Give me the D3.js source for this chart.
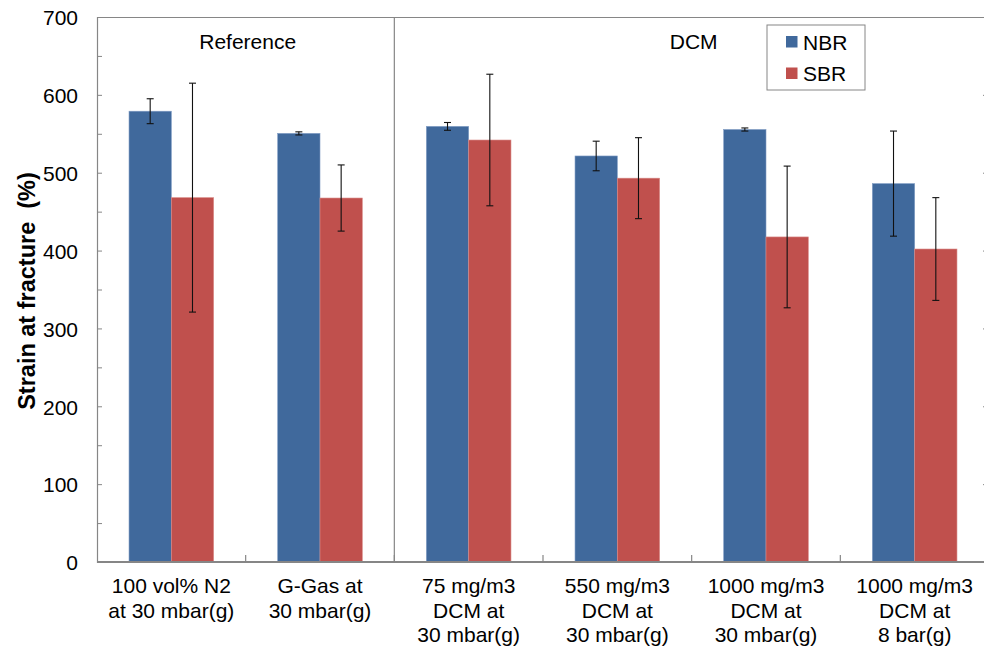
<!DOCTYPE html>
<html>
<head>
<meta charset="utf-8">
<title>Strain at fracture</title>
<style>
  body { margin: 0; background: #fff; }
  svg { font-family: "Liberation Sans", Arial, sans-serif; }
</style>
</head>
<body>
<svg id="chart" width="984" height="650"></svg>
<script src="https://cdn.jsdelivr.net/npm/d3@7"></script>
<script>
// data
var categories = [
  ['100 vol% N2', 'at 30 mbar(g)'],
  ['G-Gas at', '30 mbar(g)'],
  ['75 mg/m3', 'DCM at', '30 mbar(g)'],
  ['550 mg/m3', 'DCM at', '30 mbar(g)'],
  ['1000 mg/m3', 'DCM at', '30 mbar(g)'],
  ['1000 mg/m3', 'DCM at', '8 bar(g)']
];
var seriesNames = ['NBR', 'SBR'];
var nbr = [579, 550.5, 559.5, 521.5, 555.5, 486];
var sbr = [468, 467.5, 542, 493, 417.5, 402];
var nbrErr = [16, 2, 5, 19, 2, 67.5];
var sbrErr = [147, 42.5, 84.5, 52, 91, 66];
var groups = [
  {name: 'Reference', from: 0, to: 1},
  {name: 'DCM', from: 2, to: 5}
];
var yTicks = [0, 100, 200, 300, 400, 500, 600, 700];

var colors = {NBR: '#40699c', SBR: '#c0504d'};

var margin = {top: 17, left: 97};
var plotRight = 989, plotBottom = 562;
var fs = 21;
var svg = d3.select('#chart');

var keys = categories.map(function (c, i) { return i; });
var x = d3.scaleBand().domain(keys).range([margin.left, plotRight]).padding(0);
var x1 = d3.scaleBand().domain(seriesNames).range([0, x.bandwidth()])
    .paddingInner(0).paddingOuter(0.757);
var y = d3.scaleLinear().domain([0, 700]).range([plotBottom, margin.top]);

var rows = keys.map(function (i) {
  return {i: i, vals: [
    {s: 'NBR', v: nbr[i], e: nbrErr[i]},
    {s: 'SBR', v: sbr[i], e: sbrErr[i]}
  ]};
});

//bars
var g = svg.selectAll('g.grp').data(rows).enter().append('g')
    .attr('class', 'grp')
    .attr('transform', function (d) { return 'translate(' + x(d.i) + ',0)'; });

g.selectAll('rect').data(function (d) { return d.vals; }).enter().append('rect')
    .attr('x', function (d) { return x1(d.s); })
    .attr('width', x1.bandwidth())
    .attr('y', function (d) { return y(d.v); })
    .attr('height', function (d) { return y(0) - y(d.v); })
    .attr('fill', function (d) { return colors[d.s]; })
    .attr('stroke', function (d) { return d.s === 'NBR' ? '#7f9cc4' : '#d98a88'; })
    .attr('stroke-width', 0.6);

//error bars
var eb = g.selectAll('g.err').data(function (d) { return d.vals; }).enter().append('g')
    .attr('class', 'err')
    .attr('stroke', '#111')
    .attr('stroke-width', 1.1);
eb.append('line')
    .attr('x1', function (d) { return x1(d.s) + x1.bandwidth() / 2; })
    .attr('x2', function (d) { return x1(d.s) + x1.bandwidth() / 2; })
    .attr('y1', function (d) { return y(d.v + d.e); })
    .attr('y2', function (d) { return y(d.v - d.e); });
[1, -1].forEach(function (sgn) {
  eb.append('line')
      .attr('x1', function (d) { return x1(d.s) + x1.bandwidth() / 2 - 3.5; })
      .attr('x2', function (d) { return x1(d.s) + x1.bandwidth() / 2 + 3.5; })
      .attr('y1', function (d) { return y(d.v + sgn * d.e); })
      .attr('y2', function (d) { return y(d.v + sgn * d.e); });
});

var axisColor = '#868686';

//plot border top + divider between groups
svg.append('line')
    .attr('x1', margin.left).attr('x2', plotRight)
    .attr('y1', margin.top + 0.5).attr('y2', margin.top + 0.5)
    .attr('stroke', axisColor).attr('stroke-width', 1.2);
svg.append('line')
    .attr('x1', x(2)).attr('x2', x(2))
    .attr('y1', margin.top).attr('y2', plotBottom)
    .attr('stroke', axisColor).attr('stroke-width', 1.2);

groups.forEach(function (gr) {
  var cx = (x(gr.from) + x(gr.to) + x.bandwidth()) / 2;
  svg.append('text')
      .attr('x', cx + 2).attr('y', 49)
      .attr('text-anchor', 'middle')
      .attr('font-size', fs)
      .text(gr.name);
});

//y axis, minor ticks every 50 inside
var yMinor = d3.range(0, 701, 50);
var yAxis = svg.append('g')
    .attr('transform', 'translate(' + margin.left + ',0)')
    .call(d3.axisRight(y).tickValues(yMinor).tickSize(5).tickFormat(''));
yAxis.select('.domain').attr('stroke', axisColor).attr('stroke-width', 1.2);
yAxis.selectAll('.tick line').attr('stroke', axisColor);

svg.append('g').selectAll('text').data(yTicks).enter().append('text')
    .attr('x', 78).attr('y', function (d) { return y(d) + 1; })
    .attr('dy', '0.35em')
    .attr('text-anchor', 'end')
    .attr('font-size', fs)
    .text(function (d) { return d; });

//right side ticks
var yRight = svg.append('g')
    .attr('transform', 'translate(' + plotRight + ',0)')
    .call(d3.axisLeft(y).tickValues(yTicks).tickSize(6).tickFormat(''));
yRight.select('.domain').attr('stroke', axisColor);
yRight.selectAll('.tick line').attr('stroke', axisColor);

//x axis with category boundary ticks going up
var xAxis = svg.append('g')
    .attr('transform', 'translate(0,' + plotBottom + ')');
xAxis.append('line')
    .attr('x1', margin.left).attr('x2', plotRight)
    .attr('stroke', axisColor).attr('stroke-width', 2);
xAxis.selectAll('line.tk').data(keys.slice(1)).enter().append('line')
    .attr('class', 'tk')
    .attr('x1', function (d) { return x(d); }).attr('x2', function (d) { return x(d); })
    .attr('y1', 0).attr('y2', -7)
    .attr('stroke', axisColor).attr('stroke-width', 1.2);

//category labels
svg.append('g').selectAll('text').data(rows).enter().append('text')
    .attr('x', function (d) { return x(d.i) + x.bandwidth() / 2; })
    .attr('y', 593)
    .attr('text-anchor', 'middle')
    .attr('font-size', fs)
    .each(function (d) {
      var t = d3.select(this);
      categories[d.i].forEach(function (line, k) {
        t.append('tspan')
            .attr('x', x(d.i) + x.bandwidth() / 2)
            .attr('dy', k === 0 ? 0 : 24.6)
            .text(line);
      });
    });

//y title
svg.append('text')
    .attr('transform', 'translate(35,291) rotate(-90)')
    .attr('text-anchor', 'middle')
    .attr('font-size', 23.5)
    .attr('font-weight', 'bold')
    .style('white-space', 'pre')
    .text('Strain at fracture  (%)');

//legend
var legend = svg.append('g').attr('transform', 'translate(767,25)');
legend.append('rect')
    .attr('width', 98).attr('height', 65)
    .attr('fill', '#fff').attr('stroke', axisColor);
seriesNames.forEach(function (s, k) {
  legend.append('rect')
      .attr('x', 19).attr('y', 11 + k * 31.5)
      .attr('width', 11.5).attr('height', 11.5)
      .attr('fill', colors[s]);
  legend.append('text')
      .attr('x', 36).attr('y', 24.5 + k * 31.5)
      .attr('font-size', fs)
      .text(s);
});
</script>
</body>
</html>
